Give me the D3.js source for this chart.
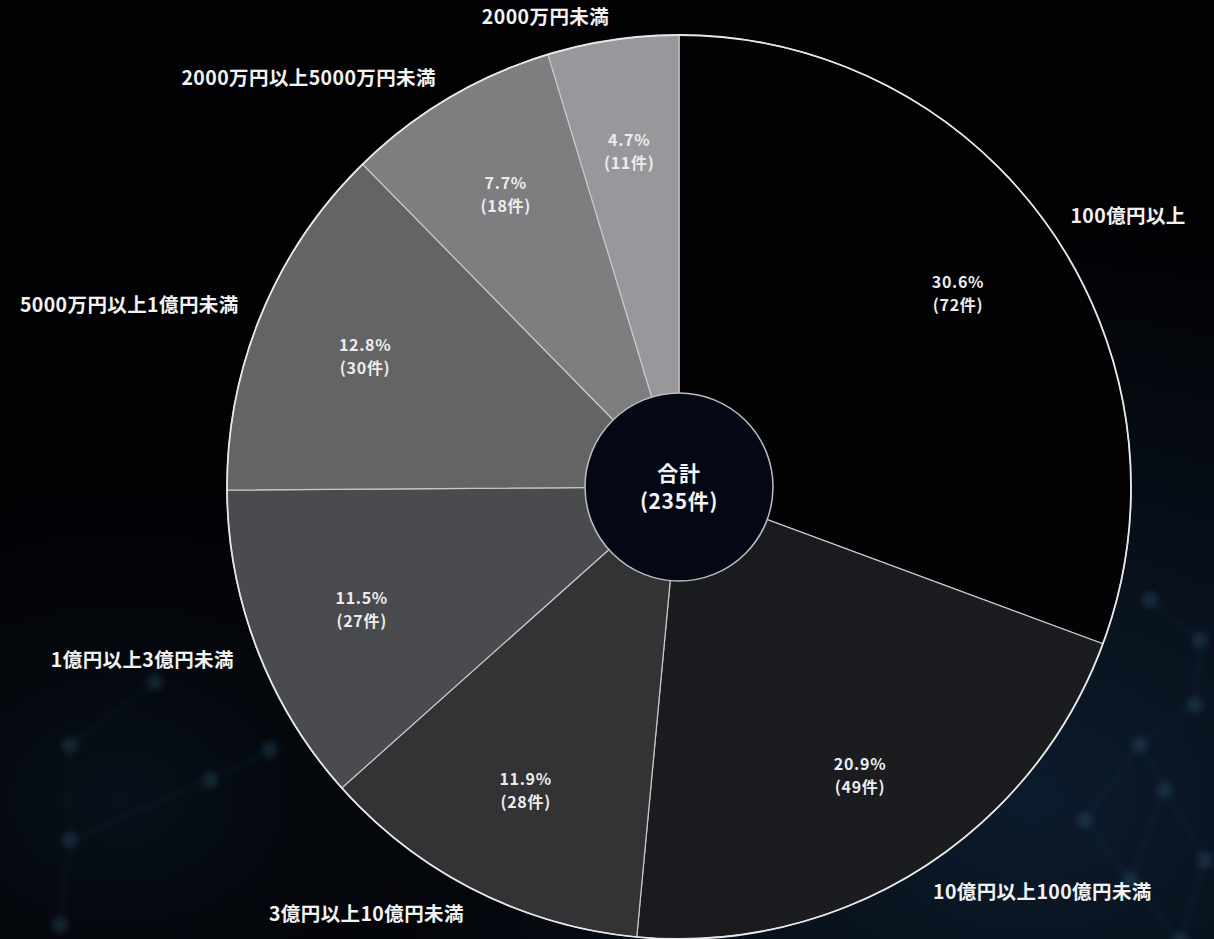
<!DOCTYPE html>
<html>
<head>
<meta charset="utf-8">
<script src="https://cdn.jsdelivr.net/npm/d3@7"></script>
<style>
  html, body { margin: 0; padding: 0; background: #020205; }
  svg { display: block; }
  text { font-family: "Noto Sans CJK JP", "Noto Sans", sans-serif; font-weight: 700; }
</style>
</head>
<body>
<svg id="chart" width="1214" height="939"></svg>
<script>
// ---- data ----
const categories = ["100億円以上", "10億円以上100億円未満", "3億円以上10億円未満", "1億円以上3億円未満", "5000万円以上1億円未満", "2000万円以上5000万円未満", "2000万円未満"];
const counts = [72, 49, 28, 27, 30, 18, 11];
const percents = ["30.6%", "20.9%", "11.9%", "11.5%", "12.8%", "7.7%", "4.7%"];
const colors = ["#030306", "#1c1d20", "#333336", "#4a4b4e", "#646465", "#7e7e80", "#98989c"];
const totalLabel = ["合計", "(235件)"];

const W = 1214, H = 939;
const cx = 679, cy = 487, R = 452, r0 = 94;
const svg = d3.select("#chart");

// background
const defs = svg.append("defs");
const bg = defs.append("radialGradient").attr("id", "bgGrad").attr("cx", "85%").attr("cy", "85%").attr("r", "60%");
bg.append("stop").attr("offset", "0%").attr("stop-color", "#0c1b2c");
bg.append("stop").attr("offset", "100%").attr("stop-color", "#020205");
const bg2 = defs.append("radialGradient").attr("id", "bgGrad2").attr("cx", "10%").attr("cy", "85%").attr("r", "40%");
bg2.append("stop").attr("offset", "0%").attr("stop-color", "#08131d").attr("stop-opacity", 0.9);
bg2.append("stop").attr("offset", "100%").attr("stop-color", "#020205").attr("stop-opacity", 0);
defs.append("filter").attr("id", "blur").append("feGaussianBlur").attr("stdDeviation", 3);
svg.append("rect").attr("width", W).attr("height", H).attr("fill", "url(#bgGrad)");
svg.append("rect").attr("width", W).attr("height", H).attr("fill", "url(#bgGrad2)");

// faint network decoration
const nodes = [[1140,745],[1195,705],[1165,790],[1205,860],[1130,880],[1085,820],[1200,640],[1150,600],[1180,940],[70,745],[70,840],[210,780],[270,750],[155,682],[60,925]];
const links = [[0,1],[0,2],[2,3],[2,4],[4,5],[0,5],[1,6],[6,7],[3,8],[4,8],[9,10],[10,11],[11,12],[9,13],[10,14]];
const deco = svg.append("g").attr("opacity", 0.22).attr("filter", "url(#blur)");
deco.selectAll("line").data(links).join("line")
  .attr("x1", d => nodes[d[0]][0]).attr("y1", d => nodes[d[0]][1])
  .attr("x2", d => nodes[d[1]][0]).attr("y2", d => nodes[d[1]][1])
  .attr("stroke", "#3c6f95").attr("stroke-width", 1.5);
deco.selectAll("circle").data(nodes).join("circle")
  .attr("cx", d => d[0]).attr("cy", d => d[1]).attr("r", 8)
  .attr("fill", "#4a86ad");

const g = svg.append("g").attr("transform", `translate(${cx},${cy})`);

const pie = d3.pie().sort(null).value(d => d)(counts);
const arc = d3.arc().innerRadius(0).outerRadius(R);
const labelArc = d3.arc().innerRadius(340).outerRadius(340);
const outerArc = d3.arc().innerRadius(477).outerRadius(477);

g.selectAll("path.slice").data(pie).join("path")
  .attr("class", "slice")
  .attr("d", arc)
  .attr("fill", (d, i) => colors[i])
  .attr("fill-opacity", (d, i) => i === 1 ? 0.94 : 1)
  .attr("stroke", "#c8c8c8")
  .attr("stroke-width", 1.2);

// outer ring stroke
g.append("circle").attr("r", R).attr("fill", "none").attr("stroke", "#e6e6e6").attr("stroke-width", 1.8);

// center circle
g.append("circle").attr("r", r0).attr("fill", "#040814").attr("stroke", "#bdbdbd").attr("stroke-width", 1.5);
g.selectAll("text.total").data(totalLabel).join("text")
  .attr("class", "total")
  .attr("text-anchor", "middle").attr("fill", "#f4f4f4").attr("font-size", 21)
  .attr("letter-spacing", 0.7)
  .attr("x", 0).attr("y", (d, i) => i === 0 ? -6 : 22)
  .text(d => d);

// inner labels
const inner = g.selectAll("g.inner").data(pie).join("g")
  .attr("class", "inner")
  .attr("transform", d => `translate(${labelArc.centroid(d)})`);
inner.append("text").attr("text-anchor", "middle").attr("fill", "#ececec")
  .attr("font-size", 16).attr("letter-spacing", 0.7)
  .attr("y", -5).text((d, i) => percents[i]);
inner.append("text").attr("text-anchor", "middle").attr("fill", "#ececec")
  .attr("font-size", 16).attr("letter-spacing", 0.7)
  .attr("y", 18).text((d, i) => `(${counts[i]}件)`);

// outer labels
g.selectAll("text.outer").data(pie).join("text")
  .attr("class", "outer")
  .attr("fill", "#f2f2f2")
  .attr("font-size", 19.5)
  .attr("letter-spacing", 0.4)
  .attr("dominant-baseline", "central")
  .attr("text-anchor", d => ((d.startAngle + d.endAngle) / 2 < Math.PI ? "start" : "end"))
  .attr("transform", d => `translate(${outerArc.centroid(d)})`)
  .text((d, i) => categories[i]);
</script>
</body>
</html>
